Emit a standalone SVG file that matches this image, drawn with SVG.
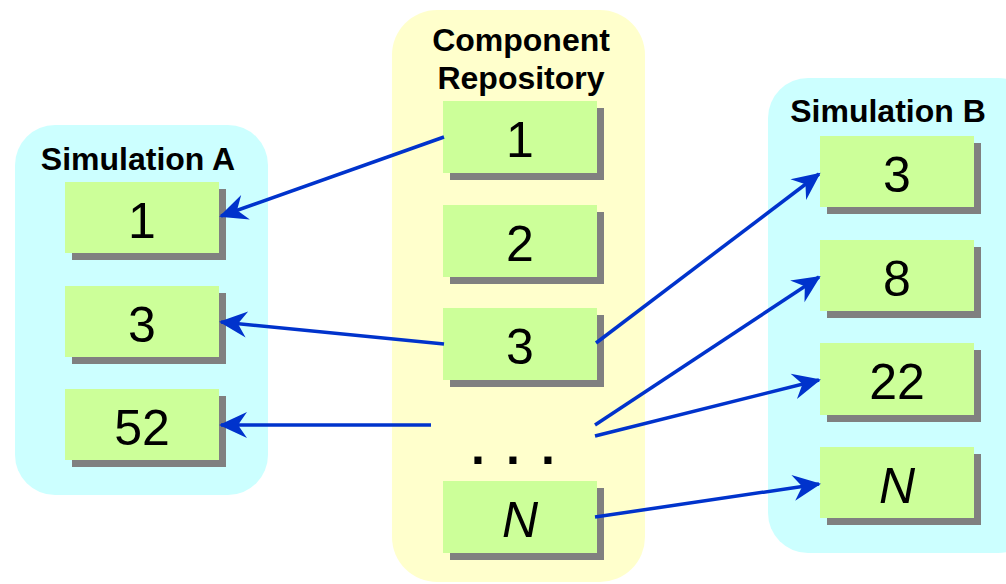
<svg xmlns="http://www.w3.org/2000/svg" width="1006" height="584" viewBox="0 0 1006 584">
<defs>
<style>
.simA,.simB{fill:#CCFFFF}
.repo{fill:#FFFFCC}
.box{fill:#CCFF99}
.shadow{fill:#808080}
.title{font-family:"Liberation Sans",Arial,sans-serif;font-weight:bold;font-size:32px;fill:#000;text-anchor:middle}
.num{font-family:"Liberation Sans",Arial,sans-serif;font-size:50px;fill:#000;text-anchor:middle}
.it{font-style:italic}
.conn{stroke:#0033CC;stroke-width:3.5;fill:none;marker-end:url(#arrow)}
</style>
<marker id="arrow" markerUnits="userSpaceOnUse" orient="auto" viewBox="-30 -15 34 30" refX="0" refY="0" markerWidth="34" markerHeight="30">
<path d="M2,0 L-26,-13 L-17,0 L-26,13 Z" fill="#0033CC"/>
</marker>
</defs>
<rect width="1006" height="584" fill="#fff"/>

<g id="simulationA">
<rect class="simA" x="15" y="125" width="253" height="370" rx="40"/>
<text class="title" x="138" y="170">Simulation A</text>
</g>
<g id="repository">
<rect class="repo" x="392" y="10" width="253" height="572" rx="45"/>
<text class="title" x="521" y="51">Component</text>
<text class="title" x="521" y="89">Repository</text>
</g>
<g id="simulationB">
<rect class="simB" x="768" y="78" width="270" height="475" rx="40"/>
<text class="title" x="888" y="122">Simulation B</text>
</g>

<g id="A1"><rect class="shadow" x="72" y="189" width="154" height="71"/><rect class="box" x="65" y="182" width="154" height="71"/><text class="num" x="142" y="238">1</text></g>
<g id="A3"><rect class="shadow" x="72" y="293" width="154" height="71"/><rect class="box" x="65" y="286" width="154" height="71"/><text class="num" x="142" y="342">3</text></g>
<g id="A52"><rect class="shadow" x="72" y="396" width="154" height="71"/><rect class="box" x="65" y="389" width="154" height="71"/><text class="num" x="142" y="445">52</text></g>

<g id="R1"><rect class="shadow" x="450" y="108" width="154" height="72"/><rect class="box" x="443" y="101" width="154" height="72"/><text class="num" x="520" y="157">1</text></g>
<g id="R2"><rect class="shadow" x="450" y="212" width="154" height="72"/><rect class="box" x="443" y="205" width="154" height="72"/><text class="num" x="520" y="261">2</text></g>
<g id="R3"><rect class="shadow" x="450" y="315" width="154" height="72"/><rect class="box" x="443" y="308" width="154" height="72"/><text class="num" x="520" y="364">3</text></g>
<g id="Rdots"><text class="num" style="font-weight:bold;text-anchor:middle" y="464"><tspan x="478">.</tspan><tspan x="513">.</tspan><tspan x="548">.</tspan></text></g>
<g id="RN"><rect class="shadow" x="450" y="488" width="154" height="72"/><rect class="box" x="443" y="481" width="154" height="72"/><text class="num it" x="520" y="537">N</text></g>

<g id="B3"><rect class="shadow" x="827" y="143" width="154" height="71"/><rect class="box" x="820" y="136" width="154" height="71"/><text class="num" x="897" y="192">3</text></g>
<g id="B8"><rect class="shadow" x="827" y="247" width="154" height="71"/><rect class="box" x="820" y="240" width="154" height="71"/><text class="num" x="897" y="296">8</text></g>
<g id="B22"><rect class="shadow" x="827" y="350" width="154" height="72"/><rect class="box" x="820" y="343" width="154" height="72"/><text class="num" x="897" y="399">22</text></g>
<g id="BN"><rect class="shadow" x="827" y="454" width="154" height="71"/><rect class="box" x="820" y="447" width="154" height="71"/><text class="num it" x="897" y="503">N</text></g>

<g id="connectors">
<line class="conn" x1="444" y1="137" x2="221" y2="216"/>
<line class="conn" x1="444" y1="344" x2="221" y2="322"/>
<line class="conn" x1="431" y1="425" x2="221" y2="425"/>
<line class="conn" x1="596" y1="343" x2="819" y2="174"/>
<line class="conn" x1="595" y1="425" x2="819" y2="277"/>
<line class="conn" x1="595" y1="436" x2="819" y2="380"/>
<line class="conn" x1="595" y1="517" x2="819" y2="484"/>
</g>
</svg>
